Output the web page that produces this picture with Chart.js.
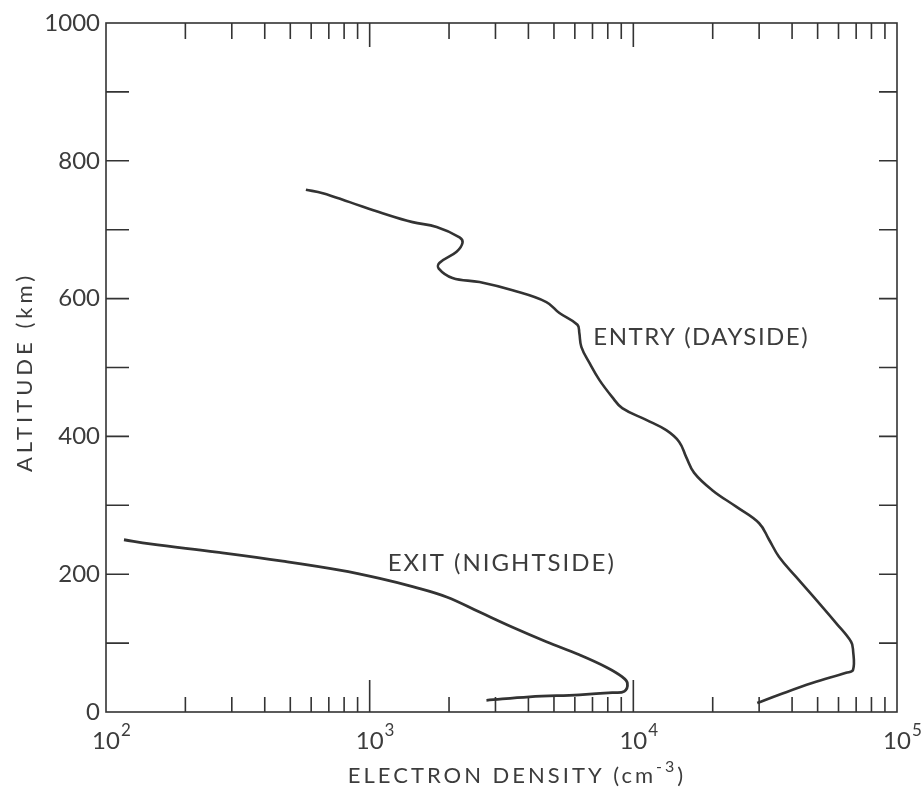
<!DOCTYPE html>
<html lang="en">
<head>
  <meta charset="UTF-8" />
  <title>Electron density profiles</title>
  <script src="https://cdn.jsdelivr.net/npm/chart.js"></script>
  <style>
    body {
      margin: 0;
      background-color: #ffffff;
    }

    #wrap {
      position: relative;
      width: 922px;
      height: 789px;
    }
  </style>
</head>
<body>
  <div id="wrap">
    <canvas id="profileChart" width="922" height="789"></canvas>
  </div>

  <script>
    // entry (dayside) profile, read from top to bottom
    const entryDensity = [573, 664, 840, 1119, 1455, 1795, 2193, 2250, 2136, 1842, 1825, 2061, 2610, 3483,
      4680, 5244, 6138, 6240, 6350, 6808, 7430, 8318, 9075, 11190, 13330, 14930, 15870, 17010, 19920,
      24550, 30000, 32730, 35720, 41430, 49300, 58750, 66970, 68120, 68120, 64120, 47660, 35720, 29510];
    const entryAltitude = [758, 753, 740, 724, 711, 704, 689, 681, 668, 652, 644, 630, 624, 612,
      595, 579, 562, 550, 530, 507, 482, 457, 441, 424, 409, 392, 370, 347, 322,
      298, 274, 250, 225, 196, 163, 129, 102, 90, 61, 57, 42, 25, 13];

    // exit (nightside) profile
    const exitDensity = [117, 147, 263, 468, 769, 1091, 1455, 1958, 2610, 3483, 4680, 6240, 7900, 9080,
      9490, 9240, 8320, 6240, 4040, 2773];
    const exitAltitude = [250, 244, 232, 219, 206, 194, 182, 167, 145, 123, 102, 83, 65, 51,
      42, 30, 28, 25, 22, 17];

    const decadeTicks = [100, 1000, 10000, 100000];
    const decadeExponents = ['2', '3', '4', '5'];
    const altitudeTicks = [0, 200, 400, 600, 800, 1000];
    const altitudeMinor = [100, 200, 300, 400, 500, 600, 700, 800, 900];

    const curveLabels = [
      { text: 'ENTRY (DAYSIDE)', x: 7050, y: 544, spacing: 1.5 },
      { text: 'EXIT (NIGHTSIDE)', x: 1170, y: 216, spacing: 2 }
    ];

    const ink = '#333333';
    const textInk = '#3c3c3c';
    const fontFamily = 'Lato, "Open Sans", sans-serif';

    function toPoints(xs, ys) {
      return xs.map((v, i) => ({ x: v, y: ys[i] }));
    }

    // writes base text followed by a raised smaller part and a tail
    function textWithSup(ctx, x, y, base, sup, tail, size, supSize, spacing) {
      ctx.letterSpacing = spacing + 'px';
      ctx.font = size + 'px ' + fontFamily;
      const wBase = ctx.measureText(base).width;
      const wTail = tail ? ctx.measureText(tail).width : 0;
      ctx.font = supSize + 'px ' + fontFamily;
      const wSup = ctx.measureText(sup).width;
      let cx = x - (wBase + wSup + wTail) / 2;
      ctx.textAlign = 'left';
      ctx.font = size + 'px ' + fontFamily;
      ctx.fillText(base, cx, y);
      cx += wBase;
      ctx.font = supSize + 'px ' + fontFamily;
      ctx.fillText(sup, cx, y - size * 0.42);
      cx += wSup;
      if (tail) {
        ctx.font = size + 'px ' + fontFamily;
        ctx.fillText(tail, cx, y);
      }
    }

    // frame, inward ticks on all four sides and the text, placed through the scales
    const framePlugin = {
      id: 'frame',
      afterDraw(chart) {
        const ctx = chart.ctx;
        const area = chart.chartArea;
        const xs = chart.scales.x;
        const ys = chart.scales.y;
        ctx.save();
        ctx.strokeStyle = ink;
        ctx.lineWidth = 1.6;
        ctx.strokeRect(area.left, area.top, area.right - area.left, area.bottom - area.top);

        ctx.beginPath();
        for (let d = 100; d < 100000; d *= 10) {
          for (let m = 1; m <= 9; m++) {
            if (m === 1 && d === 100) continue;
            const px = xs.getPixelForValue(d * m);
            const major = m === 1;
            ctx.moveTo(px, area.bottom);
            ctx.lineTo(px, area.bottom - (major ? 32 : 15));
            ctx.moveTo(px, area.top);
            ctx.lineTo(px, area.top + (major ? 24 : 16));
          }
        }
        altitudeMinor.forEach(a => {
          const py = ys.getPixelForValue(a);
          ctx.moveTo(area.left, py);
          ctx.lineTo(area.left + 23, py);
          ctx.moveTo(area.right, py);
          ctx.lineTo(area.right - 18, py);
        });
        ctx.stroke();

        ctx.fillStyle = textInk;
        ctx.textBaseline = 'middle';

        // decade labels under the x axis
        decadeTicks.forEach((v, i) => {
          const px = xs.getPixelForValue(v);
          ctx.font = '24px ' + fontFamily;
          ctx.letterSpacing = '0px';
          const w10 = ctx.measureText('10').width;
          ctx.textAlign = 'left';
          ctx.fillText('10', px - w10 / 2, area.bottom + 29);
          ctx.font = '17px ' + fontFamily;
          ctx.fillText(decadeExponents[i], px + w10 / 2 + 1, area.bottom + 19);
        });

        // curve labels
        ctx.font = '24px ' + fontFamily;
        ctx.textAlign = 'left';
        curveLabels.forEach(l => {
          ctx.letterSpacing = l.spacing + 'px';
          ctx.fillText(l.text, xs.getPixelForValue(l.x), ys.getPixelForValue(l.y));
        });

        // axis titles
        textWithSup(ctx, 517, 776, 'ELECTRON DENSITY (cm', '-3', ')', 22, 16, 3);
        ctx.save();
        ctx.translate(25, 372);
        ctx.rotate(-Math.PI / 2);
        ctx.letterSpacing = '4px';
        ctx.font = '22px ' + fontFamily;
        ctx.textAlign = 'center';
        ctx.fillText('ALTITUDE (km)', 0, 0);
        ctx.restore();
        ctx.restore();
      }
    };

    const ctx = document.getElementById('profileChart').getContext('2d');
    new Chart(ctx, {
      type: 'line',
      data: {
        datasets: [
          {
            label: 'Entry (dayside)',
            data: toPoints(entryDensity, entryAltitude),
            borderColor: ink,
            borderWidth: 2.6,
            pointRadius: 0,
            tension: 0.4,
            fill: false
          },
          {
            label: 'Exit (nightside)',
            data: toPoints(exitDensity, exitAltitude),
            borderColor: ink,
            borderWidth: 2.8,
            pointRadius: 0,
            tension: 0.4,
            fill: false
          }
        ]
      },
      options: {
        responsive: false,
        animation: false,
        layout: { padding: { top: 23, right: 25, left: 0, bottom: 0 } },
        plugins: {
          legend: { display: false },
          tooltip: { enabled: false }
        },
        scales: {
          x: {
            type: 'logarithmic',
            min: 100,
            max: 100000,
            afterBuildTicks(scale) {
              scale.ticks = decadeTicks.map(v => ({ value: v }));
            },
            afterFit(scale) { scale.height = 77; },
            grid: { display: false, drawTicks: false },
            border: { display: false },
            ticks: { display: false }
          },
          y: {
            type: 'linear',
            min: 0,
            max: 1000,
            afterBuildTicks(scale) {
              scale.ticks = altitudeTicks.map(v => ({ value: v }));
            },
            afterFit(scale) { scale.width = 106; },
            grid: { display: false, drawTicks: false },
            border: { display: false },
            ticks: {
              padding: 6,
              color: textInk,
              font: { family: fontFamily, size: 24 },
              callback: (v) => String(v)
            }
          }
        }
      },
      plugins: [framePlugin]
    });
  </script>
</body>
</html>
